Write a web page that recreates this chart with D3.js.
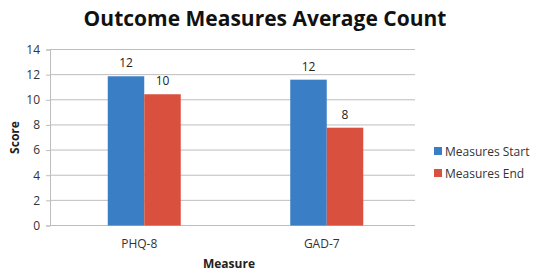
<!DOCTYPE html>
<html>
<head>
<meta charset="utf-8">
<script src="https://cdn.jsdelivr.net/npm/d3@7"></script>
<style>
  body { margin: 0; background: #fff; }
  svg text { font-family: "Open Sans", "Noto Sans", sans-serif; }
</style>
</head>
<body>
<svg id="chart"></svg>
<script>
// --- data ---
const categories = ["PHQ-8", "GAD-7"];
const seriesNames = ["Measures Start", "Measures End"];
const startValues = [11.87, 11.6];
const endValues = [10.44, 7.78];
const yTicks = [0, 2, 4, 6, 8, 10, 12, 14];
const colors = ["#3a7fc6", "#d9503f"];

const svgW = 536, svgH = 274;
const margin = { top: 49.5, right: 121, bottom: 48.5, left: 50 };
const width = svgW - margin.left - margin.right;
const height = svgH - margin.top - margin.bottom;

const root = d3.select("#chart").attr("width", svgW).attr("height", svgH);
const g = root.append("g").attr("transform", `translate(${margin.left},${margin.top})`);

const rows = categories.map((c, i) => ({ cat: c, vals: [startValues[i], endValues[i]] }));

const x0 = d3.scaleBand().domain(categories).range([0, width]);
const groupW = x0.bandwidth() * 0.4;
const x1 = d3.scaleBand().domain(seriesNames).range([0, groupW]);
const y = d3.scaleLinear().domain([0, 14]).range([height, 0]);

// gridlines
g.selectAll("line.grid")
  .data(yTicks)
  .enter().append("line")
  .attr("x1", 0).attr("x2", width)
  .attr("y1", d => y(d)).attr("y2", d => y(d))
  .attr("stroke", "#bdbdbd").attr("stroke-width", 1);

// y axis
const yAxis = g.append("g").call(d3.axisLeft(y).tickValues(yTicks).tickSize(4).tickPadding(6));
yAxis.select(".domain").attr("stroke", "#bdbdbd");
yAxis.selectAll(".tick line").attr("stroke", "#bdbdbd");
yAxis.selectAll("text").style("font-size", "12px").attr("fill", "#333");

// x labels
g.selectAll("text.cat")
  .data(categories)
  .enter().append("text")
  .attr("x", d => x0(d) + x0.bandwidth() / 2 - 2)
  .attr("y", height + 22)
  .attr("text-anchor", "middle")
  .style("font-size", "12px")
  .attr("fill", "#333")
  .text(d => d);

// bars
const grp = g.selectAll("g.grp")
  .data(rows)
  .enter().append("g")
  .attr("transform", d => `translate(${x0(d.cat) + (x0.bandwidth() - groupW) / 2 + 3},0)`);

grp.selectAll("rect")
  .data(d => d.vals.map((v, i) => ({ name: seriesNames[i], v, i })))
  .enter().append("rect")
  .attr("x", d => x1(d.name))
  .attr("y", d => y(d.v))
  .attr("width", x1.bandwidth())
  .attr("height", d => height - y(d.v))
  .attr("fill", d => colors[d.i]);

grp.selectAll("text")
  .data(d => d.vals.map((v, i) => ({ name: seriesNames[i], v, i })))
  .enter().append("text")
  .attr("x", d => x1(d.name) + x1.bandwidth() / 2)
  .attr("y", d => y(d.v) - 9)
  .attr("text-anchor", "middle")
  .style("font-size", "12px")
  .attr("fill", "#222")
  .text(d => Math.round(d.v));

// title
root.append("text")
  .attr("x", 265).attr("y", 26)
  .attr("text-anchor", "middle")
  .style("font-size", "21px").style("font-weight", "700")
  .attr("fill", "#111")
  .text("Outcome Measures Average Count");

// axis titles
root.append("text")
  .attr("transform", `translate(19,${margin.top + height / 2}) rotate(-90)`)
  .attr("text-anchor", "middle")
  .style("font-size", "12px").style("font-weight", "700")
  .attr("fill", "#222")
  .text("Score");

root.append("text")
  .attr("x", 229).attr("y", 268)
  .attr("text-anchor", "middle")
  .style("font-size", "12px").style("font-weight", "700")
  .attr("fill", "#222")
  .text("Measure");

// legend
const legend = root.append("g").attr("transform", "translate(434,151)");
seriesNames.forEach((s, i) => {
  const row = legend.append("g").attr("transform", `translate(0,${i * 22})`);
  row.append("rect").attr("x", 0).attr("y", -4).attr("width", 8).attr("height", 8).attr("fill", colors[i]);
  row.append("text").attr("x", 11).attr("y", 4.5)
    .style("font-size", "12px").attr("fill", "#333").text(s);
});
</script>
</body>
</html>
